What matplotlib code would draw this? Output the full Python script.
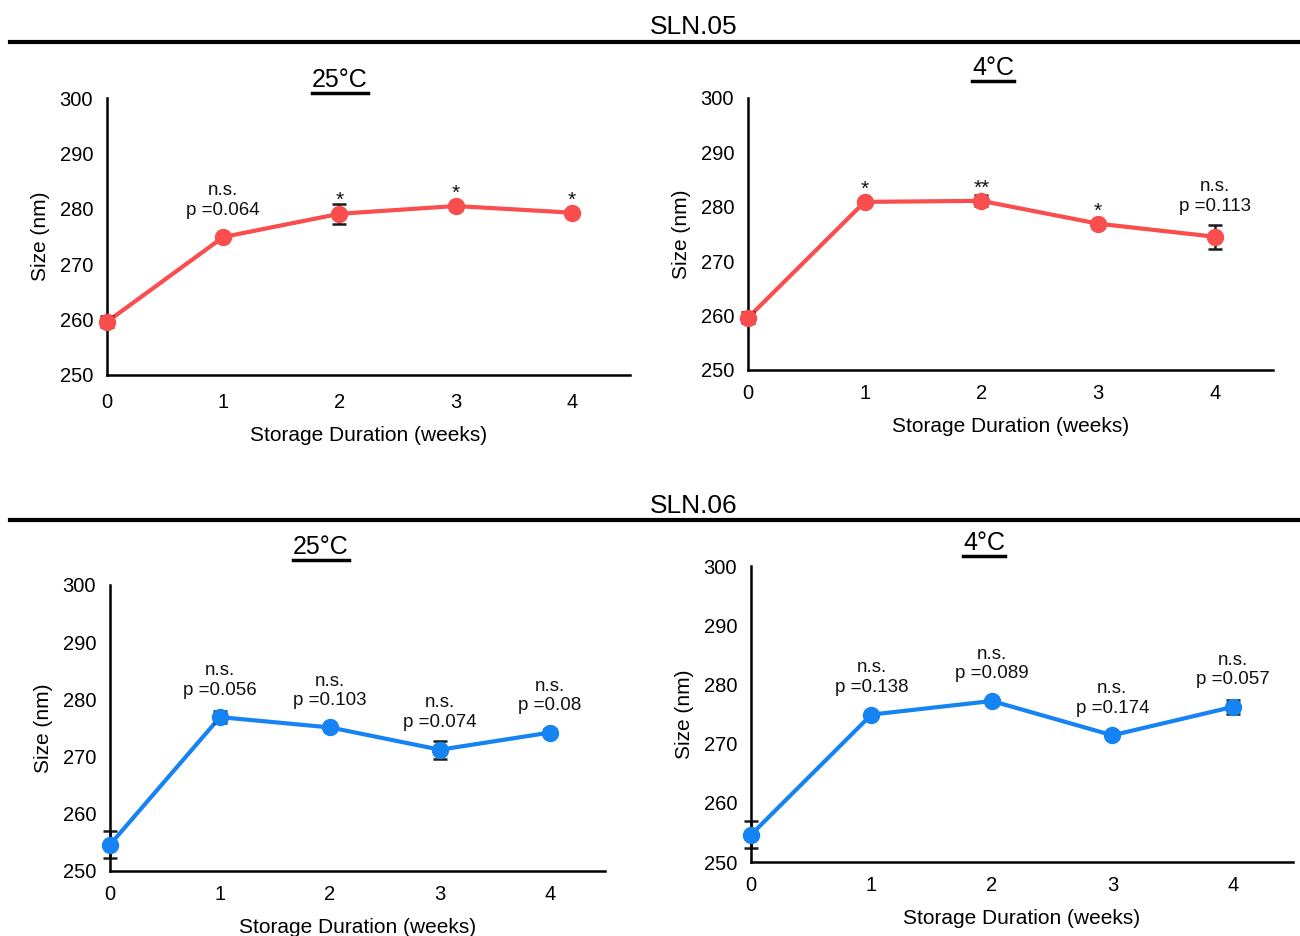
import matplotlib
matplotlib.use("Agg")
import matplotlib.pyplot as plt
from matplotlib.lines import Line2D

plt.rcParams['font.family'] = ['Liberation Sans', 'DejaVu Sans']

# Data
weeks = [0, 1, 2, 3, 4]

sln05_25c = [259.6, 274.9, 279.1, 280.5, 279.3]
sln05_25c_err = [1.0, 0.3, 1.8, 0.3, 0.3]
sln05_25c_lbl = ['', 'n.s.\np =0.064', '*', '*', '*']

sln05_4c = [259.6, 280.9, 281.1, 276.9, 274.5]
sln05_4c_err = [1.0, 0.3, 1.0, 0.3, 2.2]
sln05_4c_lbl = ['', '*', '**', '*', 'n.s.\np =0.113']

sln06_25c = [254.6, 276.9, 275.1, 271.2, 274.2]
sln06_25c_err = [2.4, 1.0, 0.3, 1.6, 0.6]
sln06_25c_lbl = ['', 'n.s.\np =0.056', 'n.s.\np =0.103', 'n.s.\np =0.074', 'n.s.\np =0.08']

sln06_4c = [254.6, 274.9, 277.2, 271.4, 276.2]
sln06_4c_err = [2.3, 0.3, 0.3, 0.3, 1.2]
sln06_4c_lbl = ['', 'n.s.\np =0.138', 'n.s.\np =0.089', 'n.s.\np =0.174', 'n.s.\np =0.057']

red = '#FA4D4D'
blue = '#1683F2'

W, H = 1300, 936
fig = plt.figure(figsize=(13, 9.36), dpi=100)


def px(x, y):
    """pixel coords (top-left origin) -> figure fraction"""
    return x / W, 1 - y / H


def make_panel(rect_px, vals, errs, labels, color, xpad):
    l, t, r, b = rect_px
    ax = fig.add_axes([l / W, 1 - b / H, (r - l) / W, (b - t) / H])
    ax.plot(weeks, vals, color=color, lw=3, clip_on=False, zorder=2)
    ax.errorbar(weeks, vals, yerr=errs, fmt='none', ecolor='#1a1a1a',
                elinewidth=1.8, capsize=5, capthick=1.8, clip_on=False, zorder=2.5)
    ax.plot(weeks, vals, 'o', color=color, ms=11.5, clip_on=False, zorder=3)
    for x, v, e, lab in zip(weeks, vals, errs, labels):
        if not lab:
            continue
        if 'n.s.' in lab:
            fs, off = 13.5, 7
        else:
            fs, off = 15, -4
        ax.annotate(lab, (x, v + max(e, 1.5)), xytext=(0, off),
                    textcoords='offset points', ha='center', va='bottom',
                    fontsize=fs, linespacing=1.2, color='#111111')
    ax.set_xlim(0, 4.5)
    ax.set_ylim(250, 300)
    ax.set_xticks(weeks)
    ax.set_yticks(range(250, 301, 10))
    ax.tick_params(length=0, labelsize=14.5, pad=10)
    ax.tick_params(axis='x', pad=xpad)
    for s in ['top', 'right']:
        ax.spines[s].set_visible(False)
    for s in ['left', 'bottom']:
        ax.spines[s].set_linewidth(1.8)
        ax.spines[s].set_color('black')
    ax.set_xlabel('Storage Duration (weeks)', fontsize=15, labelpad=10)
    ax.set_ylabel('Size (nm)', fontsize=15, labelpad=7)
    return ax


make_panel((107, 98, 630, 375), sln05_25c, sln05_25c_err, sln05_25c_lbl, red, 13)
make_panel((748, 98, 1273, 370), sln05_4c, sln05_4c_err, sln05_4c_lbl, red, 10)
make_panel((110, 585, 605, 871), sln06_25c, sln06_25c_err, sln06_25c_lbl, blue, 10)
make_panel((751, 566, 1293, 862), sln06_4c, sln06_4c_err, sln06_4c_lbl, blue, 10)

# section headers with rules
for name, ty, ly in [('SLN.05', 27, 42), ('SLN.06', 506, 520)]:
    fig.text(*px(694, ty), name, ha='center', va='center', fontsize=19)
    fig.add_artist(Line2D([10 / W, 1.0], [1 - ly / H] * 2, color='black', lw=3))

# underlined panel titles
titles = []
for name, x, y in [('25°C', 340, 80), ('4°C', 993, 68), ('25°C', 321, 547), ('4°C', 984, 543)]:
    titles.append(fig.text(*px(x, y), name, ha='center', va='center', fontsize=18))

fig.canvas.draw()
renderer = fig.canvas.get_renderer()
for t in titles:
    bb = t.get_window_extent(renderer)
    y = (bb.y0 - 1) / H
    fig.add_artist(Line2D([bb.x0 / W, bb.x1 / W], [y, y], color='black', lw=2.5))

fig.savefig('out.png', dpi=100)
